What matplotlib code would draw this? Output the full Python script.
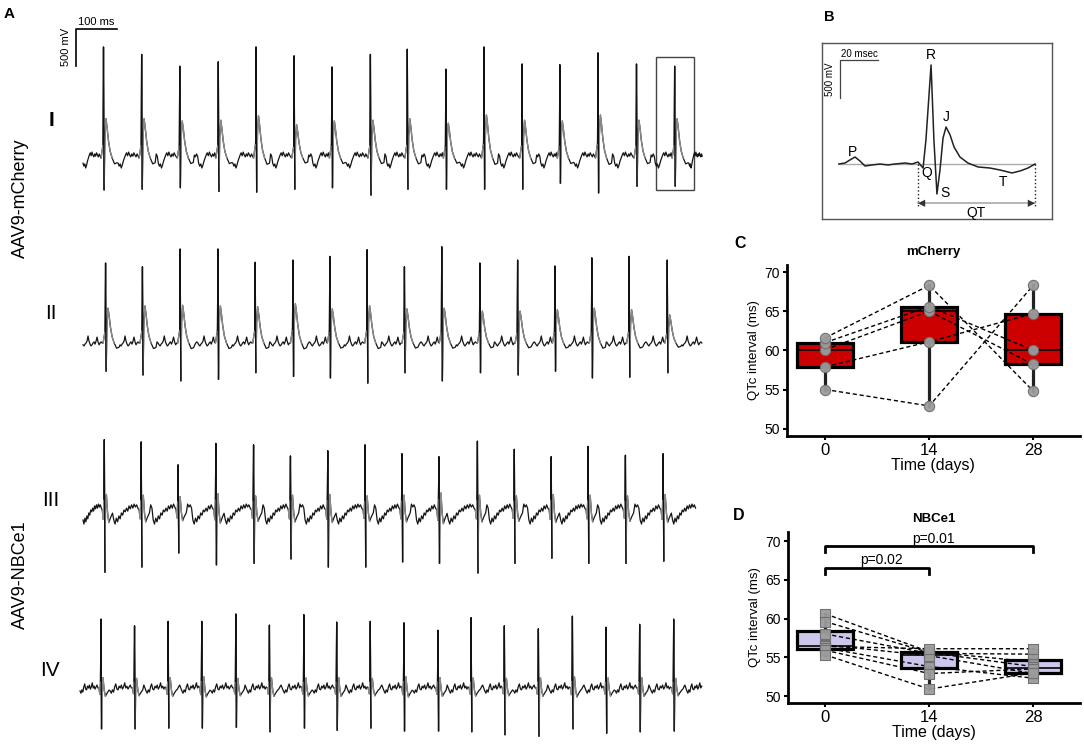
import numpy as np
import matplotlib.pyplot as plt
from matplotlib.patches import Rectangle

plt.rcParams['font.family'] = ['Liberation Sans', 'DejaVu Sans']

W, H = 1084, 753

# ---------------- panel A : ECG traces (ms from trace start, mV from baseline)
beats_1 = [50, 143, 236, 330, 422, 515, 607, 701, 791, 885, 978, 1071, 1163, 1256, 1350, 1443]
r_1 = [1500, 1400, 1240, 1300, 1500, 1380, 1230, 1400, 1470, 1200, 1500, 1270, 1260, 1420, 1270, 1240]
s_1 = [430, 420, 400, 450, 460, 420, 400, 500, 420, 420, 420, 420, 340, 470, 380, 380]
j_1 = [530, 530, 500, 510, 570, 450, 500, 510, 530, 470, 580, 510, 500, 580, 510, 530]
wig_1 = [-70, -110, -80, -135, -95, -40, 0, 40, 70, 30, 80, 40, 15, 55, 25, 70, 40, 15, 55, 25]

beats_2 = [55, 145, 237, 329, 420, 512, 602, 693, 784, 875, 968, 1060, 1151, 1241, 1332, 1425]
r_2 = [1080, 1030, 1270, 1270, 1090, 1120, 1170, 1260, 1030, 1300, 1080, 1120, 1040, 1150, 1170, 1120]
s_2 = [380, 430, 510, 490, 400, 450, 470, 540, 400, 510, 400, 430, 380, 470, 460, 400]
j_2 = [470, 500, 510, 500, 490, 530, 460, 500, 460, 470, 430, 430, 450, 470, 450, 380]
wig_2 = [-25, -40, -15, 0, 25, 95, 25, -15, -40, -25, 0, 15, -15, 25, 80, 15, -25, 0, 15, 0]

beats_3 = [52, 142, 232, 324, 416, 506, 597, 688, 778, 868, 962, 1052, 1142, 1232, 1323, 1415]
r_3 = [950, 920, 610, 900, 880, 730, 800, 880, 760, 720, 930, 820, 720, 860, 740, 760]
s_3 = [840, 770, 580, 740, 720, 660, 770, 770, 700, 720, 850, 720, 650, 720, 720, 690]
j_3 = [210, 200, 180, 220, 190, 200, 210, 190, 200, 230, 200, 190, 210, 200, 190, 210]
wig_3 = [-135, -190, -110, -160, -80, -120, -40, -70, 0, -25, 25, -15, 55, 15, 70, 25, 80, 40, 70, 25]

beats_4 = [51, 133, 215, 297, 380, 462, 546, 626, 708, 790, 873, 954, 1035, 1118, 1201, 1283, 1365, 1448]
r_4 = [930, 840, 900, 900, 1000, 850, 990, 890, 900, 880, 780, 950, 840, 800, 970, 820, 860, 930]
s_4 = [550, 550, 540, 540, 530, 590, 540, 570, 540, 580, 580, 590, 630, 650, 550, 610, 590, 580]
j_4 = [140, 130, 140, 150, 130, 140, 135, 140, 130, 150, 140, 135, 130, 140, 150, 135, 140, 130]
wig_4 = [-40, -70, -25, -55, 15, 55, -15, -25, 25, 0, 40, -15, 15, 70, 0, 25, -15, 15, 40, 0]

trace_end = [1512, 1512, 1497, 1519]

# beat templates (ms offset from R, weights of R / S / J amplitude)
tall_dt = [-6, -2.5, -1, 0, 1.5, 3.5, 6, 8.5, 12, 16, 21, 27, 33]
tall_r = [0, 0, 0, 1, 0, 0, 0, 0, 0, 0, 0, 0, 0]
tall_s = [0, 0, 0, 0, -1, 0, 0, 0, 0, 0, 0, 0, 0]
tall_j = [0, 0.25, 0.35, 0, 0, 0.55, 1.0, 0.8, 0.45, 0.18, 0.0, -0.15, -0.12]
flat_dt = [-5, -2.5, -1, 0, 1.5, 3, 5, 8, 11, 15, 20]
flat_r = [0, 0, 0, 1, 0, 0, 0, 0, 0, 0, 0]
flat_s = [0, 0, 0, 0, -1, 0, 0, 0, 0, 0, 0]
flat_j = [0, -0.6, 0.7, 0, 0, 0.5, 1.0, -0.2, -0.8, -0.5, -0.2]

# ---------------- panel B : single annotated beat (ms, mV)
b_t = [8.9, 12.1, 14.7, 17.4, 20, 22.6, 26.3, 30.5, 34.7, 38.4, 43.7, 47.4, 50.5, 53.2, 54.7, 57.4,
       58.9, 60.5, 62.1, 63.7, 65.3, 67.4, 69.5, 72.6, 76.8, 82.1, 88.4, 93.7, 100, 104.2, 108.4, 112.1]
b_v = [0, 13, 53, 92, 39, -26, -13, 0, -13, 0, 13, 0, 26, -53, 316, 1303,
       316, -395, -79, 342, 487, 382, 224, 92, 13, -39, -53, -79, -118, -92, -53, 0]
b_labels = ['P', 'R', 'J', 'Q', 'S', 'T']
b_label_t = [16.3, 57.4, 65.3, 55.3, 64.7, 95.3]
b_label_v = [158, 1434, 618, -118, -382, -237]

# ---------------- panels C, D : QTc interval (ms), one row per mouse at day 0 / 14 / 28
days = ['0', '14', '28']
c_vals = [[55.0, 52.9, 68.3],
          [57.9, 61.1, 64.7],
          [60.1, 65.0, 58.2],
          [61.0, 65.6, 60.0],
          [61.6, 68.3, 54.8]]
d_vals = [[60.6, 55.7, 54.4],
          [59.6, 55.6, 53.8],
          [58.0, 55.5, 55.4],
          [56.6, 55.2, 52.9],
          [56.4, 56.1, 56.1],
          [56.2, 53.8, 52.3],
          [55.9, 52.9, 53.5],
          [55.3, 50.9, 53.0]]
d_pvals = [('p=0.02', 0, 1), ('p=0.01', 0, 2)]


def build_trace(beats, r, s, j, dt, rw, sw, jw, wig, t_end):
    dt = np.array(dt)
    rw, sw, jw = np.array(rw), np.array(sw), np.array(jw)
    t = list(np.linspace(0, beats[0] + dt[0], len(wig), endpoint=False))
    v = list(wig)
    beat_segs = []
    for i, b in enumerate(beats):
        bt = b + dt
        bv = r[i] * rw + s[i] * sw + j[i] * jw
        t.extend(bt)
        v.extend(bv)
        beat_segs.append((bt, bv))
        nxt = beats[i + 1] + dt[0] if i + 1 < len(beats) else t_end
        w = np.roll(wig, 2 * (i % 3))
        tt = np.linspace(bt[-1], nxt, len(w) + 2)[1:-1]
        t.extend(tt)
        v.extend(w)
    return np.array(t), np.array(v), beat_segs


fig = plt.figure(figsize=(W / 100, H / 100), dpi=100)

def ftext(x, y, s, **kw):
    fig.text(x / W, 1 - y / H, s, **kw)

# ---- A
mspp, mvpp = 100 / 41, 500 / 37
ax_a = fig.add_axes([0, 0, 720 / W, 1])
ax_a.axis('off')
ax_a.set_xlim(-83 * mspp, (720 - 83) * mspp)
ax_a.set_ylim(-H * mvpp, 0)

traces = [(beats_1, r_1, s_1, j_1, wig_1, 'tall'),
          (beats_2, r_2, s_2, j_2, wig_2, 'tall'),
          (beats_3, r_3, s_3, j_3, wig_3, 'flat'),
          (beats_4, r_4, s_4, j_4, wig_4, 'flat')]
layout = [(83, 158), (83, 343), (83, 510), (80, 688)]

for k, (bb, rr, ss, jj, ww, kind) in enumerate(traces):
    if kind == 'tall':
        tmpl = (tall_dt, tall_r, tall_s, tall_j)
        hump = (5, 11)
    else:
        tmpl = (flat_dt, flat_r, flat_s, flat_j)
        hump = (5, 9)
    t, v, segs = build_trace(bb, rr, ss, jj, *tmpl, ww, trace_end[k])
    xo = (layout[k][0] - 83) * mspp
    yo = -layout[k][1] * mvpp
    ax_a.plot(t + xo, v + yo, color='#151515', lw=0.9)
    for bt, bv in segs:
        ax_a.plot(bt[0:3] + xo, bv[0:3] + yo, color='#8a8a8a', lw=1.0)
        ax_a.plot(bt[4:hump[1]] + xo, bv[4:hump[1]] + yo, color='#8a8a8a', lw=1.0)
        ax_a.plot(bt[2:5] + xo, bv[2:5] + yo, color='#111111', lw=0.9)
    if k == 0:
        tl = bb[-1] + xo
        ax_a.add_patch(Rectangle((tl - 46, yo - 32 * mvpp), 93, 133 * mvpp,
                                 fill=False, ec='#444444', lw=1.0))

# scale bar A
sb_x, sb_y = (76 - 83) * mspp, -29 * mvpp
ax_a.plot([sb_x, sb_x, sb_x + 100], [sb_y - 500, sb_y, sb_y], color='black', lw=1.2)
ftext(96, 22, '100 ms', ha='center', va='center', fontsize=8)
ftext(66, 47, '500 mV', ha='center', va='center', fontsize=8, rotation=90)

for lab, (lx, ly), bold in zip(['I', 'II', 'III', 'IV'], [(51, 120), (51, 313), (51, 500), (50, 671)],
                               [True, False, False, False]):
    ftext(lx, ly, lab, ha='center', va='center', fontsize=15,
          fontweight='bold' if bold else 'normal')
ftext(20, 198, 'AAV9-mCherry', ha='center', va='center', fontsize=13, rotation=90)
ftext(20, 575, 'AAV9-NBCe1', ha='center', va='center', fontsize=13, rotation=90)

# ---- B
pxms, pxmv = 1.9, 0.076
ax_b = fig.add_axes([822 / W, 1 - 219 / H, 230 / W, 176 / H])
ax_b.set_xlim(0, 230 / pxms)
ax_b.set_ylim((164 - 219) / pxmv, (164 - 43) / pxmv)
ax_b.set_xticks([])
ax_b.set_yticks([])
for sp in ax_b.spines.values():
    sp.set_color('#555555')
    sp.set_linewidth(1.0)
ax_b.plot([b_t[0], b_t[-1]], [0, 0], color='#aaaaaa', lw=1.0)
ax_b.plot(b_t, b_v, color='#222222', lw=1.1)
qt0, qt1, qty = b_t[12], b_t[-1], -517
for xq in (qt0, qt1):
    ax_b.plot([xq, xq], [0, qty - 30], color='#222222', lw=1.0, ls=':')
ax_b.plot([qt0, qt1], [qty, qty], color='#aaaaaa', lw=1.2)
for xa, xb in ((qt0 + 8, qt0), (qt1 - 8, qt1)):
    ax_b.annotate('', xy=(xb, qty), xytext=(xa, qty),
                  arrowprops=dict(arrowstyle='-|>', fc='#333333', ec='#333333', lw=0.0,
                                  shrinkA=0, shrinkB=0, mutation_scale=13))
ax_b.text((qt0 + qt1) / 2, qty - 40, 'QT', ha='center', va='top', fontsize=10)
for lab, lt, lv in zip(b_labels, b_label_t, b_label_v):
    ax_b.text(lt, lv, lab, ha='center', va='center', fontsize=10)
ax_b.plot([9.5, 9.5, 29.5], [1368 - 500, 1368, 1368], color='#444444', lw=0.9)
ax_b.text(19.5, 1385, '20 msec', ha='center', va='bottom', fontsize=7)
ax_b.text(4.2, 1112, '500 mV', ha='center', va='center', fontsize=7, rotation=90)

# ---- C, D
def qtc_panel(rect, vals, ylim, xlim, face, marker, title):
    ax = fig.add_axes(rect)
    arr = np.array(vals)
    ax.boxplot([arr[:, i] for i in range(3)], positions=[0, 1, 2], widths=0.54,
               whis=(0, 100), patch_artist=True, showcaps=False, showfliers=False,
               boxprops=dict(facecolor=face, edgecolor='black', linewidth=2.3),
               whiskerprops=dict(color='#222222', linewidth=2.3),
               medianprops=dict(color='black', linewidth=1.2))
    for row in arr:
        ax.plot([0, 1, 2], row, color='black', lw=1.0, ls=(0, (3, 2)), zorder=3)
    for i in range(3):
        ax.scatter(np.full(len(arr), i), arr[:, i], s=55, marker=marker, c='#9c9c9c',
                   edgecolors='#6e6e6e', linewidths=0.8, zorder=4, alpha=0.95)
    ax.set_ylim(*ylim)
    ax.set_xlim(*xlim)
    ax.set_yticks([50, 55, 60, 65, 70])
    ax.set_xticks([0, 1, 2])
    ax.set_xticklabels(days)
    for sp in ('top', 'right'):
        ax.spines[sp].set_visible(False)
    for sp in ('left', 'bottom'):
        ax.spines[sp].set_linewidth(2.0)
    ax.tick_params(axis='both', length=3, width=1.5, pad=2)
    ax.tick_params(axis='y', labelsize=10)
    ax.tick_params(axis='x', labelsize=12)
    ax.set_ylabel('QTc interval (ms)', fontsize=9.5, labelpad=3)
    ax.set_xlabel('Time (days)', fontsize=11.5, labelpad=0)
    ax.set_title(title, fontsize=9.5, fontweight='bold', pad=7)
    return ax

ax_c = qtc_panel([786.7 / W, 1 - 435.7 / H, 293.3 / W, 170.7 / H], c_vals,
                 (49.1, 70.9), (-0.371, 2.45), '#cc0000', 'o', 'mCherry')
ax_d = qtc_panel([787.7 / W, 1 - 703.3 / H, 292.3 / W, 171.6 / H], d_vals,
                 (49.06, 71.2), (-0.362, 2.449), '#cbc8ec', 's', 'NBCe1')

for (txt, a, b), yb in zip(d_pvals, [66.55, 69.3]):
    ax_d.plot([a, a, b, b], [yb - 0.75, yb, yb, yb - 0.75], color='black', lw=2.0)
    ax_d.text((a + b) / 2 + 0.04, yb + 0.05, txt, ha='center', va='bottom', fontsize=10)

# panel letters
ftext(9, 14, 'A', ha='center', va='center', fontsize=11, fontweight='bold')
ftext(829, 17, 'B', ha='center', va='center', fontsize=10.5, fontweight='bold')
ftext(740, 244, 'C', ha='center', va='center', fontsize=11.5, fontweight='bold')
ftext(739, 515, 'D', ha='center', va='center', fontsize=11.5, fontweight='bold')

fig.savefig('out.png', dpi=100)
